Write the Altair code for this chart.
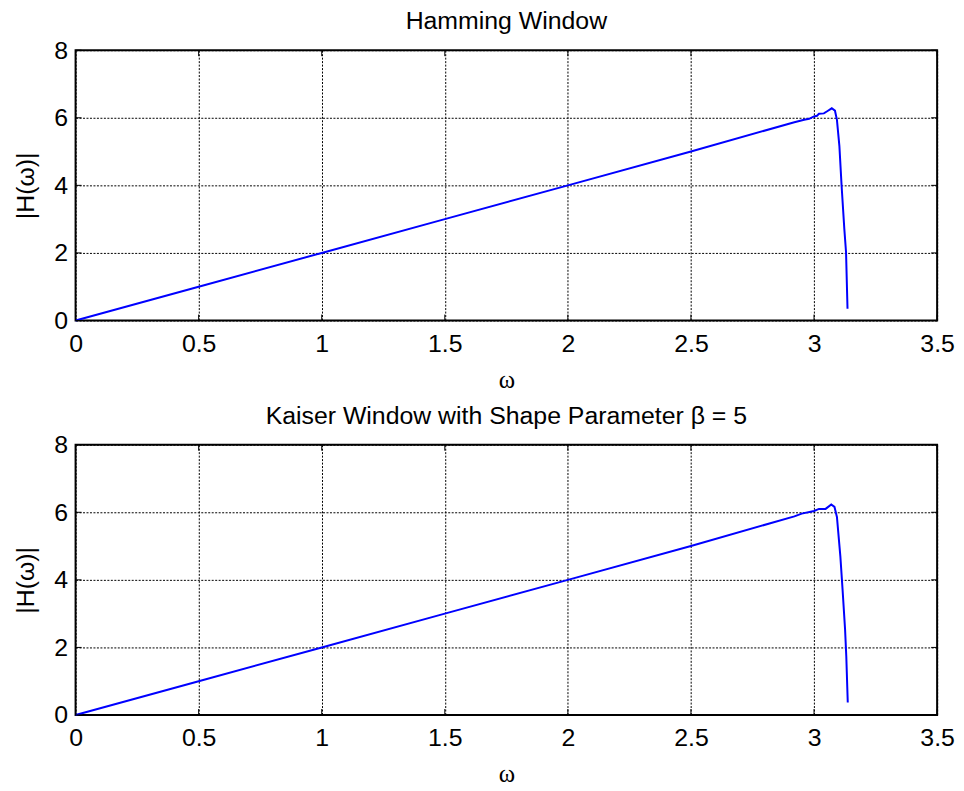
import altair as alt
import pandas as pd

# Hamming window differentiator response
w_ham = [0.0, 0.5, 1.0, 1.5, 2.0, 2.5, 2.92, 2.96, 2.98, 3.0, 3.012, 3.02, 3.04,
         3.055, 3.072, 3.085, 3.093, 3.103, 3.112, 3.123, 3.13, 3.136]
h_ham = [0.0, 1.0, 2.0, 3.0, 4.0, 5.0, 5.87, 5.94, 5.97, 6.04, 6.06, 6.12, 6.13,
         6.2, 6.28, 6.21, 5.94, 5.16, 3.98, 2.71, 2.02, 0.35]

# Kaiser window (beta = 5) response
w_kai = [0.0, 0.5, 1.0, 1.5, 2.0, 2.5, 2.92, 2.95, 3.0, 3.02, 3.047, 3.07,
         3.083, 3.093, 3.107, 3.116, 3.126, 3.131, 3.137]
h_kai = [0.0, 1.0, 2.0, 3.0, 4.0, 5.0, 5.88, 5.96, 6.04, 6.10, 6.10, 6.23,
         6.16, 5.86, 4.69, 3.7, 2.54, 1.74, 0.37]

x_ticks = [0, 0.5, 1, 1.5, 2, 2.5, 3, 3.5]
y_ticks = [0, 2, 4, 6, 8]

W, H = 867, 272
SANS = "Liberation Sans"
SERIF = "Liberation Serif"
FS = 25


def panel(w, h, title):
    df = pd.DataFrame({"w": w, "h": h})
    xs = alt.Scale(domain=[0, 3.5], nice=False, zero=False)
    ys = alt.Scale(domain=[0, 8], nice=False, zero=False)
    xa = alt.Axis(values=x_ticks, title="ω", labelPadding=11, format="~g",
                  labelFlush=False, titleY=59,
                  titleBaseline="middle", titleFont=SERIF)
    ya = alt.Axis(values=y_ticks, title="|H(ω)|", labelPadding=8, format="~g",
                  titleX=-50, titleY=H / 2, titleAngle=270,
                  titleAlign="center", titleBaseline="middle")
    line = alt.Chart(df).mark_line(color="#0000ff", strokeWidth=2).encode(
        x=alt.X("w:Q", scale=xs, axis=xa),
        y=alt.Y("h:Q", scale=ys, axis=ya),
    )
    xt = pd.DataFrame({"t": x_ticks})
    yt = pd.DataFrame({"t": y_ticks})
    tb = alt.Chart(xt).mark_rule(color="black", strokeWidth=1).encode(
        x=alt.X("t:Q", scale=xs, axis=xa), y=alt.value(H), y2=alt.value(H - 6))
    tt = alt.Chart(xt).mark_rule(color="black", strokeWidth=1).encode(
        x=alt.X("t:Q", scale=xs, axis=xa), y=alt.value(0), y2=alt.value(6))
    tl = alt.Chart(yt).mark_rule(color="black", strokeWidth=1).encode(
        y=alt.Y("t:Q", scale=ys, axis=ya), x=alt.value(0), x2=alt.value(6))
    tr = alt.Chart(yt).mark_rule(color="black", strokeWidth=1).encode(
        y=alt.Y("t:Q", scale=ys, axis=ya), x=alt.value(W), x2=alt.value(W - 6))
    return alt.layer(line, tb, tt, tl, tr).properties(
        width=W, height=H,
        title=alt.TitleParams(text=title, font=SANS, fontSize=FS,
                              fontWeight="normal", color="black", offset=-16,
                              baseline="alphabetic", anchor="middle",
                              frame="group"),
    )


chart = alt.vconcat(
    panel(w_ham, h_ham, "Hamming Window"),
    panel(w_kai, h_kai, "Kaiser Window with Shape Parameter β = 5"),
    spacing=10,
).properties(
    padding={"left": 5, "top": -2, "right": 0, "bottom": 0},
    background="white",
).configure_view(
    stroke="black", strokeWidth=2
).configure_axis(
    labelFont=SANS, labelFontSize=FS, labelColor="black",
    titleFont=SANS, titleFontSize=FS, titleFontWeight="normal", titleColor="black",
    ticks=False, domain=False, grid=True, gridColor="black", gridDash=[2, 1.5],
    gridWidth=1, gridOpacity=1, labelOverlap=False,
)

chart.save("out.html", embed_options={"renderer": "svg", "actions": False})
